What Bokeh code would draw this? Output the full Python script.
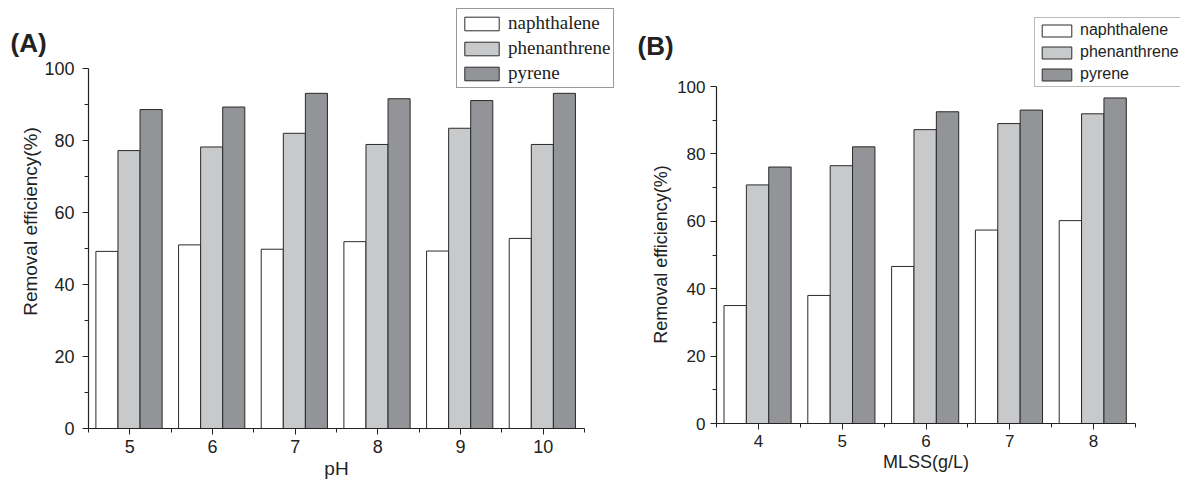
import math
import numpy as np
from bokeh.plotting import figure
from bokeh.layouts import row
from bokeh.models import Range1d, FixedTicker, Label
from bokeh.embed import file_html
from bokeh.resources import INLINE

# ---- data ----
ph = [5, 6, 7, 8, 9, 10]
naph_ph = [49.2, 51.0, 49.8, 51.9, 49.3, 52.8]
phen_ph = [77.2, 78.2, 82.0, 78.9, 83.4, 78.9]
pyr_ph = [88.6, 89.3, 93.1, 91.6, 91.1, 93.1]

mlss = [4, 5, 6, 7, 8]
naph_mlss = [35.0, 38.0, 46.6, 57.4, 60.2]
phen_mlss = [70.8, 76.5, 87.2, 89.0, 91.9]
pyr_mlss = [76.1, 82.1, 92.5, 93.0, 96.6]

series_names = ["naphthalene", "phenanthrene", "pyrene"]
y_ticks = [0, 20, 40, 60, 80, 100]
y_minor = [10, 30, 50, 70, 90]
y_title = "Removal efficiency(%)"

COLORS = ["#ffffff", "#c8c9cb", "#939497"]
LINE = "#2a2a2a"
BW = 0.267
SHIFT = -0.01


def make_panel(xs, series, width, height, px_box, xlabel, tick_fs, label_fs,
               legend_font, legend_fs, legend_loc, legend_glyph_w, legend_glyph_h,
               legend_spacing, legend_pad, legend_standoff, legend_border,
               panel_text, panel_xy, tick_standoff, ylabel_center):
    # px_box: pixel positions (left, right, top, bottom) of the axes box in this canvas
    L, R, T, B = px_box
    ax0, ax1 = xs[0] - 0.5, xs[-1] + 0.5
    sx = (R - L) / (ax1 - ax0)
    sy = (B - T) / 100.0
    x_start = ax0 - L / sx
    x_end = ax1 + (width - R) / sx
    y_start = -(height - B) / sy
    y_end = 100 + T / sy

    p = figure(width=width, height=height, output_backend="svg", toolbar_location=None,
               x_range=Range1d(x_start, x_end), y_range=Range1d(y_start, y_end),
               min_border=0, min_border_left=0, min_border_right=0,
               min_border_top=0, min_border_bottom=0)
    p.outline_line_color = None
    p.xgrid.visible = False
    p.ygrid.visible = False
    p.background_fill_color = "white"
    p.border_fill_color = "white"

    xarr = np.array(xs, dtype=float)
    offsets = [-BW, 0.0, BW]
    for vals, name, col, off in zip(series, series_names, COLORS, offsets):
        p.vbar(x=xarr + off + SHIFT, top=vals, width=BW, bottom=0,
               fill_color=col, line_color=LINE, line_width=1,
               legend_label=name)

    minor_x = list(np.arange(ax0, ax1 + 0.01, 1.0))
    p.xaxis.ticker = FixedTicker(ticks=list(xs), minor_ticks=minor_x)
    p.yaxis.ticker = FixedTicker(ticks=y_ticks, minor_ticks=y_minor)
    p.xaxis.fixed_location = 0
    p.xaxis.bounds = (ax0, ax1)
    p.yaxis.fixed_location = ax0
    p.yaxis.bounds = (0, 100)
    for ax in (p.xaxis[0], p.yaxis[0]):
        ax.axis_line_color = "#222222"
        ax.axis_line_width = 1.2
        ax.major_tick_line_color = "#222222"
        ax.minor_tick_line_color = "#222222"
        ax.major_tick_in = 0
        ax.major_tick_out = 6
        ax.minor_tick_in = 0
        ax.minor_tick_out = 4
        ax.major_label_text_font = "Liberation Sans"
        ax.major_label_text_font_size = f"{tick_fs}px"
        ax.major_label_text_color = "#222222"
        ax.axis_label_text_font = "Liberation Sans"
        ax.axis_label_text_font_size = f"{label_fs}px"
        ax.axis_label_text_font_style = "normal"
        ax.axis_label_text_color = "#222222"
    p.xaxis.major_label_standoff = 5
    p.yaxis.major_label_standoff = tick_standoff
    p.xaxis.axis_label = xlabel
    p.xaxis.axis_label_standoff = 2

    # y-axis title as a rotated label (position taken from the reference layout)
    p.add_layout(Label(x=ylabel_center[0], y=height - ylabel_center[1],
                       x_units="screen", y_units="screen", angle=math.pi / 2,
                       text=y_title, text_font="Liberation Sans",
                       text_font_size=f"{label_fs}px", text_color="#222222",
                       text_align="center", text_baseline="middle"))

    lg = p.legend[0]
    lg.location = legend_loc
    lg.label_text_font = legend_font
    lg.label_text_font_size = f"{legend_fs}px"
    lg.label_text_color = "#222222"
    lg.glyph_width = legend_glyph_w
    lg.glyph_height = legend_glyph_h
    lg.label_height = legend_glyph_h
    lg.spacing = legend_spacing
    lg.padding = legend_pad
    lg.margin = 0
    lg.label_standoff = legend_standoff
    lg.border_line_color = legend_border
    lg.border_line_width = 1
    lg.background_fill_color = "white"
    lg.background_fill_alpha = 1.0

    p.add_layout(Label(x=panel_xy[0], y=height - panel_xy[1], x_units="screen", y_units="screen",
                       text=panel_text, text_font="Liberation Sans",
                       text_font_size="26px", text_font_style="bold",
                       text_color="#222222", text_baseline="top", text_align="left"))
    return p


pA = make_panel(ph, [naph_ph, phen_ph, pyr_ph], 620, 480, (88, 584, 68, 428), "pH",
                18, 19, "Liberation Serif", 19, (456, 392), 43, 17, 3, 3, 5, "#333333",
                "(A)", (10, 27), 8, (30, 221))
pB = make_panel(mlss, [naph_mlss, phen_mlss, pyr_mlss], 560, 480, (96, 515, 86, 423), "MLSS(g/L)",
                17, 18, "Liberation Sans", 16, (414, 393), 37, 15, 4, 3, 5, "#777777",
                "(B)", (17, 30), 5, (40, 254))

layout = row(pA, pB)
open("out.html", "w").write(file_html(layout, INLINE))
